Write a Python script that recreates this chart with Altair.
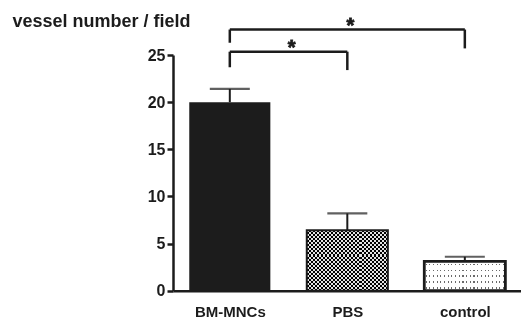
import altair as alt
import pandas as pd

# ---------------- data ----------------
groups = ["BM-MNCs", "PBS", "control"]
means = [20.0, 6.4, 3.1]
err_up = [1.4, 1.8, 0.5]

bracket_from = [0, 0]          # group index
bracket_to = [1, 2]
bracket_level = [25.35, 27.7]
bracket_left_end = [23.7, 26.3]
bracket_right_end = [23.4, 25.7]
bracket_text = ["*", "*"]

y_ticks = [0, 5, 10, 15, 20, 25]
y_title = "vessel number / field"

# ---------------- tables ----------------
bars = pd.DataFrame({
    "idx": list(range(len(groups))),
    "group": groups,
    "mean": means,
    "err": err_up,
})
brk = pd.DataFrame({
    "x1": bracket_from,
    "x2": bracket_to,
    "level": bracket_level,
    "lend": bracket_left_end,
    "rend": bracket_right_end,
    "txt": bracket_text,
})

INK = "#1c1c1c"
HALF = 0.345  # half bar width in index units

xscale = alt.Scale(domain=[-0.4834, 2.478], nice=False, zero=False)
yscale = alt.Scale(domain=[0, 25], nice=False)

label_expr = "[" + ",".join("'%s'" % g for g in groups) + "][datum.value]"

xaxis = alt.Axis(values=[0, 1, 2], labelExpr=label_expr, ticks=False, grid=False,
                 domainColor=INK, domainWidth=2.5, labelFontSize=15, labelFontWeight="bold",
                 labelColor=INK, labelPadding=14, title=None)
yaxis = alt.Axis(values=y_ticks, grid=False, domainColor=INK, domainWidth=2.5,
                 tickColor=INK, tickWidth=2.5, tickSize=6, labelFontSize=16,
                 labelFontWeight="bold", labelColor=INK, labelPadding=2,
                 title=y_title, titleAngle=0, titleAlign="left", titleBaseline="alphabetic",
                 titleX=-161, titleY=-29, titleFontSize=18, titleFontWeight="bold",
                 titleColor=INK)


def X(field):
    return alt.X(field, scale=xscale, axis=xaxis)


def Y(field):
    return alt.Y(field, scale=yscale, axis=yaxis)


def stripes(n, on_frac, on_color, off_color, vertical_lines, centered=False):
    stops = []
    for k in range(n):
        a = k / n
        c = (k + 1) / n
        if centered:
            s = (k + (1 - on_frac) / 2) / n
            e = (k + (1 + on_frac) / 2) / n
            stops += [(a, off_color), (s, off_color), (s, on_color), (e, on_color),
                      (e, off_color), (c, off_color)]
        else:
            b = (k + on_frac) / n
            stops += [(a, on_color), (b, on_color), (b, off_color), (c, off_color)]
    gs = [alt.GradientStop(offset=o, color=col) for o, col in stops]
    if vertical_lines:
        return alt.LinearGradient(gradient="linear", stops=gs, x1=0, x2=1, y1=0, y2=0)
    return alt.LinearGradient(gradient="linear", stops=gs, x1=0, x2=0, y1=0, y2=1)


base = alt.Chart(bars).transform_calculate(
    lo="datum.idx - %f" % HALF, hi="datum.idx + %f" % HALF, upper="datum.mean + datum.err"
)


def bar_enc():
    return dict(x=X("lo:Q"), x2="hi:Q", y=Y("mean:Q"), y2=alt.datum(0))


# solid bar
bm = base.transform_filter(alt.datum.idx == 0).mark_bar(color=INK).encode(**bar_enc())

# checker bar (PBS)
pbs = base.transform_filter(alt.datum.idx == 1)
pbs_a = pbs.mark_bar(fill=stripes(20, 0.5, INK, "white", True)).encode(**bar_enc())
pbs_b = pbs.mark_bar(fill=stripes(15, 0.5, "white", INK, False), blend="difference").encode(**bar_enc())
pbs_c = pbs.mark_bar(fillOpacity=0, stroke=INK, strokeWidth=2).encode(**bar_enc())

# dotted bar (control)
ctl = base.transform_filter(alt.datum.idx == 2)
ctl_a = ctl.mark_bar(fill=stripes(22, 0.3, "#6a6a6a", "white", True, centered=True)).encode(**bar_enc())
ctl_b = ctl.mark_bar(fill=stripes(5, 0.25, "#6a6a6a", "white", False, centered=True), blend="lighten").encode(**bar_enc())
ctl_c = ctl.mark_bar(fillOpacity=0, stroke=INK, strokeWidth=2.8).encode(**bar_enc())

# error bars
err_rule = base.mark_rule(color=INK, strokeWidth=2).encode(
    x=X("idx:Q"), y=Y("mean:Q"), y2="upper:Q",
)
err_cap = base.mark_tick(color=INK, orient="horizontal", size=40, thickness=2.2).encode(
    x=X("idx:Q"), y=Y("upper:Q"),
)

# significance brackets
bb = alt.Chart(brk).transform_calculate(mid="(datum.x1 + datum.x2) / 2")
br_h = bb.mark_rule(color=INK, strokeWidth=2.5).encode(
    x=X("x1:Q"), x2="x2:Q", y=Y("level:Q"),
)
br_l = bb.mark_rule(color=INK, strokeWidth=2.5).encode(
    x=X("x1:Q"), y=Y("level:Q"), y2="lend:Q",
)
br_r = bb.mark_rule(color=INK, strokeWidth=2.5).encode(
    x=X("x2:Q"), y=Y("level:Q"), y2="rend:Q",
)
br_t = bb.mark_text(color=INK, fontSize=20, fontWeight="bold", baseline="alphabetic",
                    align="center", dy=2, dx=3, stroke=INK, strokeWidth=0.8).encode(
    x=X("mid:Q"), y=Y("level:Q"), text="txt:N",
)

chart = alt.layer(
    bm, pbs_a, pbs_b, pbs_c, ctl_a, ctl_b, ctl_c, err_rule, err_cap, br_h, br_l, br_r, br_t
).properties(
    width=348, height=235.7,
    autosize=alt.AutoSizeParams(type="none"),
    padding={"left": 173, "top": 55, "right": 0, "bottom": 31.3},
    background="white",
).configure(font="Liberation Sans").configure_view(stroke=None)

chart.save("out.html", embed_options={"renderer": "svg", "actions": False})
